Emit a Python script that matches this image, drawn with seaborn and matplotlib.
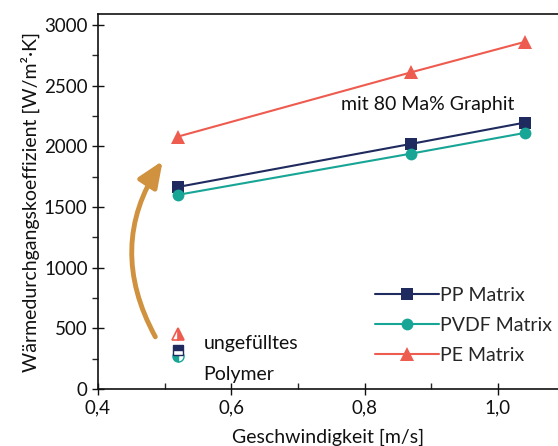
import matplotlib
matplotlib.use("Agg")
import matplotlib.pyplot as plt
import seaborn as sns
import pandas as pd
from matplotlib.ticker import MultipleLocator, FuncFormatter

# Data
speed = [0.52, 0.87, 1.04]
pp = [1665, 2020, 2195]
pvdf = [1600, 1940, 2110]
pe = [2080, 2610, 2860]
unfilled_x = 0.52
unfilled_pe = 450
unfilled_pp = 320
unfilled_pvdf = 275
series_names = ["PP Matrix", "PVDF Matrix", "PE Matrix"]

sns.set_theme(style="ticks")
plt.rcParams['font.family'] = ['Lato', 'DejaVu Sans']

colors = {"PP Matrix": "#1F2B5E", "PVDF Matrix": "#17A596", "PE Matrix": "#EE5B4F"}
markers = {"PP Matrix": "s", "PVDF Matrix": "o", "PE Matrix": "^"}

df = pd.DataFrame({
    "speed": speed * 3,
    "value": pp + pvdf + pe,
    "series": [series_names[0]] * 3 + [series_names[1]] * 3 + [series_names[2]] * 3,
})

fig = plt.figure(figsize=(5.58, 4.46), dpi=100)
ax = fig.add_axes([0.1756, 0.1278, 0.8244, 0.8408])

for name in series_names:
    sub = df[df["series"] == name]
    sns.lineplot(data=sub, x="speed", y="value", ax=ax, color=colors[name],
                 marker=markers[name], markersize=8.5 if name != "PE Matrix" else 9.5,
                 markeredgewidth=0, lw=1.5, label=name)

# Unfilled polymer half-filled markers
ax.plot([unfilled_x], [unfilled_pe], marker="^", fillstyle="right", color=colors["PE Matrix"],
        markerfacecoloralt="white", markeredgecolor=colors["PE Matrix"], markersize=8.5, mew=1.2, ls="none")
ax.plot([unfilled_x], [unfilled_pvdf], marker="o", fillstyle="left", color=colors["PVDF Matrix"],
        markerfacecoloralt="white", markeredgecolor=colors["PVDF Matrix"], markersize=8, mew=1, ls="none")
ax.plot([unfilled_x], [unfilled_pp], marker="s", fillstyle="top", color=colors["PP Matrix"],
        markerfacecoloralt="white", markeredgecolor=colors["PP Matrix"], markersize=6.5, mew=1, ls="none")

# Curved arrow
ax.annotate("", xy=(0.497, 1880), xytext=(0.486, 430),
            arrowprops=dict(arrowstyle="-|>,head_width=0.55,head_length=1.3",
                            color="#D0923E", lw=3.5,
                            connectionstyle="arc3,rad=-0.3", shrinkA=0, shrinkB=0))

FS = 14
ax.text(0.558, 375, "ungefülltes", fontsize=FS, va="center", ha="left", color="#111111")
ax.text(0.558, 120, "Polymer", fontsize=FS, va="center", ha="left", color="#111111")
ax.text(0.765, 2345, "mit 80 Ma% Graphit", fontsize=FS, va="center", ha="left", color="#111111")

ax.set_xlim(0.4, 1.09)
ax.set_ylim(0, 3090)
ax.xaxis.set_major_locator(MultipleLocator(0.2))
ax.xaxis.set_minor_locator(MultipleLocator(0.1))
ax.yaxis.set_major_locator(MultipleLocator(500))
ax.yaxis.set_minor_locator(MultipleLocator(250))
ax.xaxis.set_major_formatter(FuncFormatter(lambda v, p: f"{v:.1f}".replace(".", ",")))

ax.tick_params(axis="both", which="major", direction="inout", length=8, width=1,
               labelsize=13.5, colors="#111111")
ax.tick_params(axis="x", which="minor", direction="in", length=4, width=1)
ax.tick_params(axis="y", which="minor", direction="out", length=4, width=1)
for s in ["left", "bottom", "top"]:
    ax.spines[s].set_linewidth(1.2)
    ax.spines[s].set_color("#111111")
ax.spines["right"].set_visible(False)

ax.set_xlabel("Geschwindigkeit [m/s]", fontsize=FS, labelpad=9, color="#111111")
ax.set_ylabel("Wärmedurchgangskoeffizient [W/m²·K]", fontsize=FS, labelpad=3, color="#111111")

leg = ax.legend(loc="lower right", bbox_to_anchor=(1.017, 0.03), frameon=False, fontsize=FS,
                handlelength=3.3, handletextpad=0.05, labelspacing=0.68, borderaxespad=0.3)

fig.savefig("out.png", dpi=100)
